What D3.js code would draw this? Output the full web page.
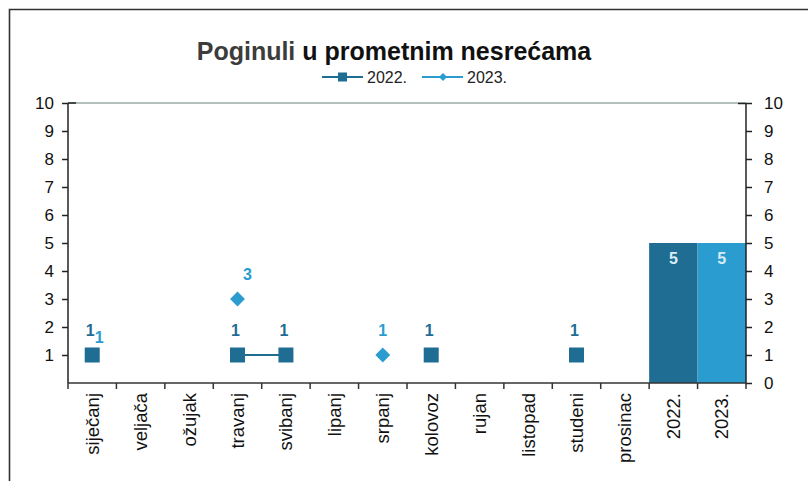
<!DOCTYPE html>
<html><head><meta charset="utf-8">
<script src="https://cdn.jsdelivr.net/npm/d3@7"></script>
<style>body{margin:0;background:#fff}svg{display:block;font-family:"Liberation Sans",Arial,sans-serif}</style>
</head><body><svg id="c" width="808" height="481"></svg>
<script>
const categories = ["siječanj","veljača","ožujak","travanj","svibanj","lipanj","srpanj","kolovoz","rujan","listopad","studeni","prosinac","2022.","2023."];
const months = categories.slice(0,12);
const series2022 = [1,null,null,1,1,null,null,1,null,null,1,null];
const series2023 = [1,null,null,3,null,null,1,null,null,null,null,null];
const totals = [{cat:"2022.",value:5},{cat:"2023.",value:5}];
const yTicksLeft = [1,2,3,4,5,6,7,8,9,10];
const yTicksRight = [0,1,2,3,4,5,6,7,8,9,10];
const legendLabels = ["2022.","2023."];

const c2022 = "#1f6d93", c2023 = "#2a9ccf";
const svg = d3.select("#c");
const L = 68, R = 746, T = 103, B = 383;
const x = d3.scaleBand().domain(categories).range([L,R]).paddingInner(0).paddingOuter(0);
const y = d3.scaleLinear().domain([0,10]).range([B,T]);

// frame
svg.append("path").attr("d","M9.5,481 V9.5 H808").attr("fill","none").attr("stroke","#333").attr("stroke-width",1.6);

// title
const t = svg.append("text").attr("x",394).attr("y",60).attr("text-anchor","middle").attr("font-size",25).attr("font-weight","bold");
t.append("tspan").attr("fill","#3c3c3c").text("Poginuli ");
t.append("tspan").attr("fill","#111").text("u prometnim nesrećama");

// legend
const lg = svg.append("g").attr("font-size",16).attr("fill","#222");
[[322,c2022,"sq"],[422,c2023,"di"]].forEach((d,i)=>{
  lg.append("line").attr("x1",d[0]).attr("x2",d[0]+41).attr("y1",77).attr("y2",77).attr("stroke",d[1]).attr("stroke-width",2);
  if(d[2]==="sq") lg.append("rect").attr("x",d[0]+16).attr("y",72.5).attr("width",9).attr("height",9).attr("fill",d[1]);
  else lg.append("path").attr("d",d3.symbol(d3.symbolDiamond2,40)()).attr("transform",`translate(${d[0]+21},77)`).attr("fill",d[1]);
  lg.append("text").attr("x",d[0]+45).attr("y",83).text(legendLabels[i]);
});

// top border line of plot
svg.append("line").attr("x1",L).attr("x2",R).attr("y1",T).attr("y2",T).attr("stroke","#9aaba6").attr("stroke-width",1.5);

// bars
svg.selectAll("rect.bar").data(totals).enter().append("rect").attr("class","bar")
  .attr("x",d=>x(d.cat)).attr("width",x.bandwidth()).attr("y",d=>y(d.value)).attr("height",d=>B-y(d.value))
  .attr("fill",(d,i)=>i===0?c2022:c2023);
svg.selectAll("text.bl").data(totals).enter().append("text")
  .attr("x",d=>x(d.cat)+x.bandwidth()/2).attr("y",d=>y(d.value)+21).attr("text-anchor","middle")
  .attr("font-size",16).attr("font-weight","bold").attr("fill","#d8ecf6").text(d=>d.value);

// axes
const axL = d3.axisLeft(y).tickValues(yTicksLeft).tickSize(6).tickPadding(8).tickFormat(d3.format("d"));
const gL = svg.append("g").attr("transform",`translate(${L},0)`).call(axL);
const axR = d3.axisRight(y).tickValues(yTicksRight).tickSize(6).tickPadding(12).tickFormat(d3.format("d"));
const gR = svg.append("g").attr("transform",`translate(${R},0)`).call(axR);
[gL,gR].forEach(g=>{g.select(".domain").attr("d",`M0,${T}V${B}`).attr("stroke","#222").attr("stroke-width",1.5);
  g.selectAll(".tick line").attr("stroke","#222").attr("stroke-width",1.5);
  g.selectAll("text").attr("font-size",17).attr("fill","#111").attr("font-family","Liberation Sans, Arial, sans-serif");});
gR.select(".tick:last-of-type line").attr("x1",-8);
gL.append("line").attr("x1",0).attr("x2",8).attr("y1",T).attr("y2",T).attr("stroke","#222").attr("stroke-width",1.5);

const gx = svg.append("g").attr("transform",`translate(0,${B})`);
gx.append("line").attr("x1",L).attr("x2",R).attr("stroke","#333").attr("stroke-width",1.5);
const bounds = categories.map(c=>x(c)).concat([R]);
gx.selectAll("line.tk").data(bounds).enter().append("line").attr("x1",d=>d).attr("x2",d=>d).attr("y1",0).attr("y2",6).attr("stroke","#333").attr("stroke-width",1.5);
gx.selectAll("text").data(categories).enter().append("text")
  .attr("transform",d=>`translate(${x(d)+x.bandwidth()/2+6.5},10) rotate(-90)`)
  .attr("text-anchor","end").attr("font-size",18.5).attr("fill","#111").text(d=>d);

// lines
const cx = (i)=>x(months[i])+x.bandwidth()/2;
const line = d3.line().defined(d=>d!=null).x((d,i)=>cx(i)).y(d=>y(d));
svg.append("path").datum(series2023).attr("d",line).attr("fill","none").attr("stroke",c2023).attr("stroke-width",2);
svg.append("path").datum(series2022).attr("d",line).attr("fill","none").attr("stroke",c2022).attr("stroke-width",2);

const p23 = series2023.map((v,i)=>({v,i})).filter(d=>d.v!=null);
const p22 = series2022.map((v,i)=>({v,i})).filter(d=>d.v!=null);
svg.selectAll("path.di").data(p23).enter().append("path")
  .attr("d",d3.symbol(d3.symbolDiamond2,140)()).attr("transform",d=>`translate(${cx(d.i)},${y(d.v)})`).attr("fill",c2023);
svg.selectAll("rect.sq").data(p22).enter().append("rect")
  .attr("x",d=>cx(d.i)-7.5).attr("y",d=>y(d.v)-7.5).attr("width",15).attr("height",15).attr("fill",c2022);

svg.selectAll("text.l22").data(p22).enter().append("text")
  .attr("x",d=>cx(d.i)-2).attr("y",d=>y(d.v)-19).attr("text-anchor","middle")
  .attr("font-size",16).attr("font-weight","bold").attr("fill",c2022).text(d=>d.v);
const off23 = {0:[7,-12],3:[10,-19],6:[0,-19]};
svg.selectAll("text.l23").data(p23).enter().append("text")
  .attr("x",d=>cx(d.i)+off23[d.i][0]).attr("y",d=>y(d.v)+off23[d.i][1]).attr("text-anchor","middle")
  .attr("font-size",16).attr("font-weight","bold").attr("fill",c2023).text(d=>d.v);
</script></body></html>
